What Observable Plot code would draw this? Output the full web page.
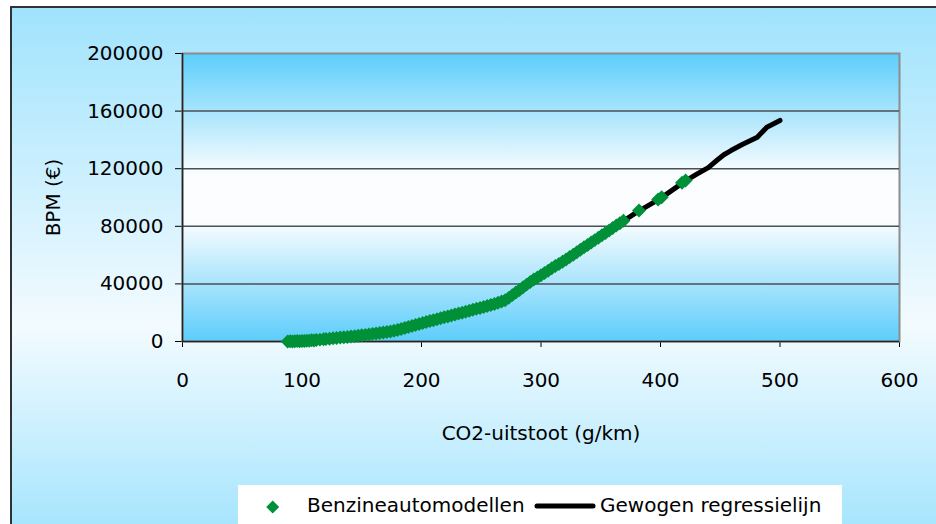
<!DOCTYPE html>
<html><head><meta charset="utf-8">
<script src="https://cdn.jsdelivr.net/npm/d3@7"></script>
<script src="https://cdn.jsdelivr.net/npm/@observablehq/plot@0.6"></script>
<style>
body{margin:0;background:#fff;}
#wrap{position:relative;width:936px;height:524px;overflow:hidden;background:#fff;font-family:"DejaVu Sans";}
#outer{position:absolute;left:10px;top:6px;width:940px;height:530px;border-left:2px solid #2f3336;border-top:2px solid #2f3336;background:linear-gradient(to bottom,#a0e3fd 0%,#f3fbff 60%,#a2e4fd 100%);}
#chart{position:absolute;left:0;top:0;}
#legend{position:absolute;left:238px;top:485px;}
</style></head>
<body>
<div id="wrap"><div id="outer"></div><div id="chart"></div>
<svg id="legend" width="604" height="45" xmlns="http://www.w3.org/2000/svg" font-family="DejaVu Sans" font-size="20">
<rect x="0" y="0" width="604" height="45" fill="#fff"/>
<path d="M34.7,15.5 L41.2,22 L34.7,28.5 L28.2,22 Z" fill="#009038"/>
<text x="69" y="27" fill="#000">Benzineautomodellen</text>
<line x1="299" y1="21" x2="355" y2="21" stroke="#000" stroke-width="5" stroke-linecap="round"/>
<text x="362" y="27" fill="#000">Gewogen regressielijn</text>
</svg>
</div>
<script>
// Green diamonds: Benzineautomodellen (CO2 g/km, BPM €)
const pointX = [88,90,92,94,96,98,100,102,104,106,108,110,112,115,118,120,123,126,129,132,135,138,141,144,147,150,153,156,159,162,165,168,171,174,177,180,183,186,189,192,195,198,201,204,207,210,213,216,219,222,225,228,231,234,237,240,243,246,249,252,255,258,261,264,267,270,273,276,279,282,285,288,291,294,297,300,303,306,309,312,315,318,321,324,327,330,333,336,339,342,345,348,351,354,357,360,363,366,369,382,398,401,418,421];
const pointY = [0,100,0,200,300,150,400,300,600,500,800,700,1000,1300,1500,1700,1900,2200,2500,2700,3000,3200,3500,3700,4000,4300,4600,4900,5300,5600,5900,6200,6600,7000,7500,8000,8700,9400,10000,10700,11400,12200,12900,13600,14200,14800,15400,16100,16800,17400,18000,18700,19400,20000,20700,21300,22000,22700,23300,24000,24600,25300,26100,26900,27700,28700,30300,32200,34000,35800,37700,39500,41300,43000,44500,46000,47600,49200,50800,52400,53900,55400,57000,58600,60300,62000,63700,65400,67000,68700,70400,72100,73800,75400,77100,78800,80500,82200,83800,91000,98600,100200,110200,111800];
// Black line: Gewogen regressielijn
const lineX = [88,100,120,140,160,180,200,220,240,260,270,280,300,320,340,360,380,400,420,430,440,447,453,459,468,481,489,500];
const lineY = [0,400,1700,3400,5300,8000,12500,17000,21100,25800,28700,34800,46000,56500,67000,78800,89700,99400,111000,116000,120800,125700,129700,132600,136600,141900,148800,153500];
const xTicks = [0,100,200,300,400,500,600];
const yTicks = [0,40000,80000,120000,160000,200000];
const gridValues = [40000,80000,120000,160000];

const points = pointX.map((x,i)=>({x, y: pointY[i]}));
const line = lineX.map((x,i)=>({x, y: lineY[i]}));

const plot = Plot.plot({
  width: 936, height: 470,
  marginLeft: 182, marginRight: 37, marginTop: 53, marginBottom: 129,
  style: {background: "transparent", fontFamily: "DejaVu Sans", fontSize: "20px", color: "#000", overflow: "visible"},
  x: {domain: [0,600], ticks: xTicks, tickSize: 6, tickPadding: 25, tickFormat: "d", label: "CO2-uitstoot (g/km)", labelAnchor: "center", labelOffset: 98, labelArrow: false},
  y: {domain: [0,200000], ticks: yTicks, tickSize: 7, tickPadding: 12, tickFormat: "d", label: "BPM (€)", labelAnchor: "center", labelOffset: 137, labelArrow: false},
  marks: [
    Plot.frame({fill: "url(#plotGrad)", stroke: "#8c8c8c", strokeWidth: 2}),
    Plot.ruleY(gridValues, {stroke: "#4b5055", strokeWidth: 1.5}),
    Plot.ruleY([0], {stroke: "#222", strokeWidth: 1.5}),
    Plot.ruleX([0], {stroke: "#222", strokeWidth: 1.5}),
    Plot.line(line, {x: "x", y: "y", stroke: "#000", strokeWidth: 5, strokeLinecap: "round", strokeLinejoin: "round"}),
    Plot.dot(points, {x: "x", y: "y", symbol: "diamond2", r: 6.3, fill: "#009038", stroke: "none"})
  ]
});
const ns = "http://www.w3.org/2000/svg";
const defs = document.createElementNS(ns, "defs");
defs.innerHTML = '<linearGradient id="plotGrad" x1="0" y1="0" x2="0" y2="1">' +
  '<stop offset="0" stop-color="#5ccefb"/><stop offset="0.42" stop-color="#fbfdff"/>' +
  '<stop offset="0.58" stop-color="#fbfdff"/><stop offset="1" stop-color="#5ccdfb"/></linearGradient>';
plot.insertBefore(defs, plot.firstChild);
document.getElementById("chart").appendChild(plot);
</script>
</body></html>
